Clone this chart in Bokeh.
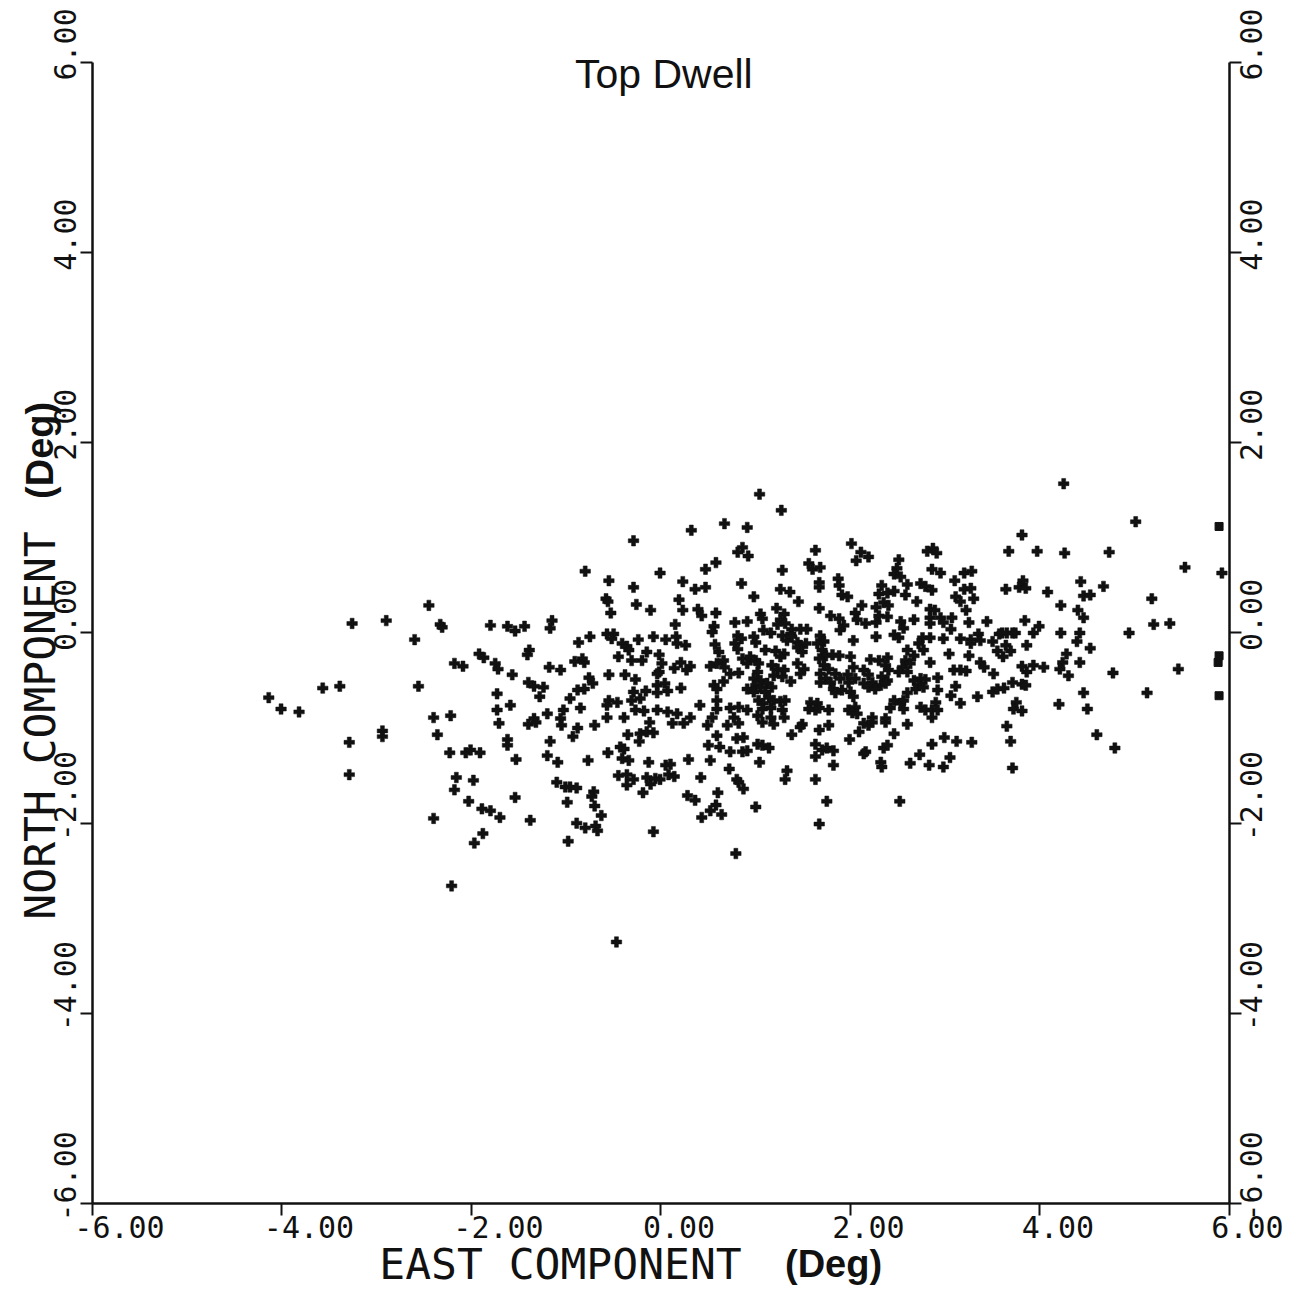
import math
from bokeh.plotting import figure
from bokeh.models import Range1d, LinearAxis, FixedTicker, Label
from bokeh.embed import file_html
from bokeh.resources import INLINE

# ---- data (degrees) ----
east = [
 -2.45,-3.26,-2.90,-2.33,-2.31,-2.60,-1.80,-1.92,-1.87,-2.18,
 -2.09,-1.75,-1.72,-3.57,-3.39,-2.56,-1.73,-4.14,-4.01,-3.82,
 -2.40,-2.22,-1.73,-1.71,-2.94,-2.94,-3.29,-2.36,-2.23,-2.06,
 -2.01,-1.91,-3.29,-2.16,-1.98,-2.18,-2.03,-1.89,-1.80,-1.70,
 -2.40,-1.88,-1.97,-2.21, 0.67, 0.91, 0.32,-0.29, 0.86, 0.81,
  0.92, 0.58, 0.47,-0.80,-0.01,-0.55, 0.23, 0.85,-0.29, 0.36,
  0.47,-0.58,-0.56, 0.19,-0.26,-0.11, 0.39, 0.43, 0.23, 0.58,
 -0.53,-1.15,-1.17,-1.62,-1.54,-1.44, 0.15, 0.56, 0.54, 0.78,
  0.91,-0.57,-0.50,-0.52,-0.75,-0.87,-0.24,-0.08, 0.05, 0.16,
  0.17, 0.26, 0.81, 0.85, 0.78, 0.81,-0.41,-0.36,-0.34, 0.57,
 -1.39,-1.41,-0.15,-0.02,-0.45, 0.61,-0.83,-0.91,-0.81,-0.31,
 -0.20, 0.01,-0.02,-0.04, 0.21, 0.14, 0.31, 0.27, 0.52, 0.59,
  0.66, 0.67, 0.86, 0.91,-1.18,-1.06,-1.57,-0.55,-0.38,-0.27,
 -0.76,-0.72, 0.73, 0.82, 0.66,-1.40,-1.34,-1.24,-1.28,-0.88,
 -0.81,-0.96,-0.29,-0.31,-0.22,-0.16,-0.04, 0.04,-0.04, 0.07,
  0.21, 0.56, 0.59, 0.91, 0.59,-1.59,-1.20,-1.03,-0.85,-0.55,
 -0.57,-0.46, 0.41, 0.73, 0.82,-0.27,-0.18,-0.04, 0.07, 0.17,
  0.59, 0.91,-0.57,-0.39, 0.31, 0.54, 0.77,-1.34,-1.06,-1.40,
 -1.32,-1.05,-0.88,-0.70,-1.62,-1.62,-1.17,-0.93,-0.35,-0.22,
 -0.15,-0.08,-0.23,-0.43,-0.39,-0.56,-1.20,-1.09,-1.53,-0.77,
 -0.41,-0.34,-0.13, 0.05, 0.10, 0.29, 0.52, 0.59, 0.50, 0.62,
  0.73, 0.49, 0.70, 0.82, 0.12, 0.24,-0.12, 0.80, 0.87, 0.86,
  0.91, 0.72,-0.45,-0.36,-0.29,-0.36,-0.15,-0.11,-0.06,-0.01,
  0.08, 0.14, 0.42, 0.80, 0.82, 0.87,-1.10,-1.01,-0.96,-0.89,
 -0.71,-0.73,-0.19, 0.28, 0.36, 0.60,-1.54,-0.99,-0.70, 0.58,
  0.52, 0.64, 0.43,-0.63,-1.38,-0.89,-0.80,-0.69,-0.67,-0.08,
 -0.98, 0.79,-0.47, 1.04, 1.27, 2.01, 1.63, 2.11, 2.19, 2.06,
  2.87, 2.81, 2.91, 2.51, 1.56, 1.60, 1.68, 1.28, 2.49, 2.46,
  2.53, 2.86, 2.95, 3.20, 3.28, 3.10, 1.87, 1.88, 1.67, 1.67,
  2.33, 2.60, 2.74, 2.79, 2.86, 3.20, 3.27, 1.26, 1.36, 2.30,
  2.39, 2.46, 2.58, 1.91, 1.97, 3.11, 3.16, 3.30, 0.98, 1.45,
  2.35, 2.40, 2.70, 2.12, 1.67, 2.27, 1.22, 2.84, 2.89, 3.22,
  1.05, 1.07, 1.30, 1.26, 1.31, 1.23, 1.79, 1.88, 2.05, 2.07,
  2.16, 2.30, 2.27, 2.39, 2.53, 2.67, 2.84, 2.84, 2.95, 3.07,
  2.98, 3.25, 3.44, 1.38, 1.47, 1.54, 1.37, 1.08, 1.16, 1.93,
  1.89, 2.56, 3.06, 0.98, 1.00, 1.28, 1.33, 1.38, 1.44, 1.47,
  1.53, 1.68, 1.72, 1.65, 2.03, 2.27, 2.46, 2.51, 2.76, 2.84,
  2.72, 2.98, 3.16, 3.27, 3.35, 3.37, 3.27, 3.50, 3.57, 1.10,
  0.94, 1.00, 1.03, 1.21, 1.30, 1.26, 1.44, 1.49, 1.70, 1.74,
  1.81, 1.88, 2.00, 2.21, 2.30, 2.39, 2.60, 2.58, 2.67, 2.63,
  2.77, 3.04, 3.25, 3.55, 1.67, 1.17, 1.23, 1.44, 1.51, 1.47,
  1.72, 1.77, 1.68, 1.74, 2.03, 2.14, 2.19, 2.37, 2.40, 2.55,
  2.51, 2.60, 2.84, 3.09, 3.16, 3.22, 3.37, 3.41, 1.02, 0.98,
  1.05, 1.19, 1.28, 1.30, 1.37, 1.84, 1.89, 1.97, 1.98, 1.68,
  1.79, 2.05, 2.14, 2.23, 2.33, 2.39, 2.32, 2.37, 2.67, 2.74,
  2.79, 2.72, 2.69, 2.77, 2.92, 3.11, 3.51, 1.00, 1.05, 0.98,
  1.12, 1.17, 1.10, 1.14, 1.82, 1.91, 1.84, 2.00, 2.03, 2.19,
  2.26, 2.60, 2.92, 3.06, 3.34, 3.50, 3.55, 1.03, 1.08, 1.19,
  1.26, 1.31, 1.07, 1.16, 1.58, 1.65, 1.56, 1.63, 1.67, 1.77,
  1.98, 2.05, 2.02, 2.07, 2.23, 2.37, 2.46, 2.53, 2.56, 2.42,
  2.56, 2.74, 2.79, 2.90, 2.86, 2.92, 3.16, 1.28, 1.02, 1.16,
  1.30, 2.86, 1.07, 1.19, 1.49, 1.47, 1.67, 1.77, 1.38, 2.14,
  2.19, 2.23, 2.37, 2.60, 2.09, 1.99, 2.46, 1.02, 1.07, 1.14,
  1.63, 1.70, 1.75, 1.82, 1.63, 2.16, 2.14, 2.35, 2.39, 1.04,
  1.82, 2.32, 2.33, 2.63, 2.73, 2.83, 2.86, 2.99, 3.12, 3.28,
  3.05, 2.98, 1.33, 1.31, 1.63, 1.75, 2.52, 1.00, 1.67, 4.25,
  5.01, 5.92, 3.81, 3.67, 3.97, 4.26, 4.73, 5.53, 3.82, 3.78,
  3.85, 3.64, 4.08, 4.43, 4.67, 4.46, 4.53, 5.18, 4.22, 4.40,
  4.46, 3.84, 3.99, 3.93, 3.60, 3.65, 3.71, 3.74, 4.22, 4.42,
  4.94, 5.20, 5.37, 4.39, 4.53, 3.86, 3.64, 3.69, 3.61, 4.28,
  4.24, 4.42, 3.81, 3.93, 4.04, 3.86, 4.21, 4.30, 4.77, 5.46,
  3.71, 3.62, 3.81, 3.85, 4.46, 5.13, 3.75, 3.72, 3.81, 4.20,
  4.50, 3.65, 3.69, 3.71, 4.60, 4.79]
north = [
  0.29, 0.10, 0.13, 0.09, 0.06,-0.07, 0.08,-0.22,-0.26,-0.32,
 -0.35,-0.32,-0.38,-0.58,-0.56,-0.56,-0.64,-0.68,-0.80,-0.83,
 -0.89,-0.87,-0.81,-0.95,-1.03,-1.09,-1.15,-1.07,-1.26,-1.26,
 -1.23,-1.26,-1.49,-1.52,-1.55,-1.65,-1.77,-1.85,-1.87,-1.94,
 -1.95,-2.11,-2.21,-2.66, 1.15, 1.11, 1.08, 0.97, 0.90, 0.85,
  0.81, 0.74, 0.67, 0.65, 0.63, 0.55, 0.54, 0.52, 0.48, 0.46,
  0.48, 0.36, 0.33, 0.35, 0.30, 0.24, 0.25, 0.18, 0.24, 0.21,
  0.21, 0.13, 0.05, 0.07, 0.02, 0.07, 0.09, 0.07, 0.01, 0.11,
  0.12,-0.01,-0.01,-0.06,-0.04,-0.10,-0.07,-0.04,-0.07,-0.04,
 -0.11,-0.13,-0.03,-0.06,-0.11,-0.17,-0.11,-0.14,-0.18,-0.12,
 -0.18,-0.23,-0.20,-0.23,-0.25,-0.20,-0.27,-0.30,-0.31,-0.29,
 -0.29,-0.32,-0.41,-0.43,-0.31,-0.37,-0.35,-0.39,-0.35,-0.32,
 -0.29,-0.36,-0.27,-0.32,-0.36,-0.39,-0.44,-0.44,-0.44,-0.49,
 -0.47,-0.53,-0.43,-0.42,-0.51,-0.52,-0.56,-0.57,-0.67,-0.60,
 -0.59,-0.69,-0.62,-0.71,-0.69,-0.61,-0.55,-0.53,-0.63,-0.61,
 -0.58,-0.55,-0.59,-0.59,-0.71,-0.76,-0.85,-0.81,-0.79,-0.71,
 -0.76,-0.73,-0.76,-0.79,-0.78,-0.81,-0.82,-0.81,-0.83,-0.85,
 -0.80,-0.81,-0.89,-0.89,-0.89,-0.89,-0.89,-0.90,-0.90,-0.96,
 -0.94,-0.97,-1.00,-0.97,-1.12,-1.18,-1.14,-1.09,-1.07,-1.06,
 -1.04,-1.05,-1.14,-1.20,-1.22,-1.26,-1.29,-1.36,-1.33,-1.34,
 -1.32,-1.34,-1.36,-1.39,-1.38,-1.33,-1.34,-1.08,-1.18,-1.20,
 -1.25,-0.97,-0.97,-0.95,-0.95,-0.95,-0.94,-1.11,-1.10,-1.25,
 -1.24,-1.43,-1.50,-1.49,-1.54,-1.60,-1.52,-1.59,-1.53,-1.54,
 -1.49,-1.51,-1.52,-1.54,-1.57,-1.64,-1.57,-1.62,-1.62,-1.63,
 -1.67,-1.72,-1.68,-1.71,-1.76,-1.68,-1.73,-1.78,-1.82,-1.81,
 -1.87,-1.91,-1.94,-1.92,-1.97,-2.00,-2.05,-2.03,-2.08,-2.09,
 -2.19,-2.32,-3.25, 1.46, 1.29, 0.94, 0.87, 0.85, 0.80, 0.76,
  0.89, 0.86, 0.84, 0.77, 0.73, 0.67, 0.69, 0.66, 0.68, 0.62,
  0.59, 0.67, 0.63, 0.63, 0.65, 0.55, 0.57, 0.50, 0.53, 0.48,
  0.50, 0.51, 0.52, 0.49, 0.45, 0.46, 0.47, 0.46, 0.43, 0.41,
  0.42, 0.44, 0.40, 0.40, 0.38, 0.38, 0.33, 0.36, 0.38, 0.33,
  0.32, 0.29, 0.33, 0.29, 0.26, 0.27, 0.26, 0.25, 0.24, 0.24,
  0.20, 0.15, 0.20, 0.14, 0.10, 0.09, 0.18, 0.15, 0.21, 0.14,
  0.10, 0.18, 0.11, 0.17, 0.12, 0.14, 0.16, 0.10, 0.16, 0.16,
  0.11, 0.11, 0.12, 0.04, 0.04, 0.04,-0.01, 0.03, 0.00, 0.08,
  0.03, 0.05, 0.04,-0.04,-0.10,-0.03,-0.08,-0.04,-0.10,-0.13,
 -0.11,-0.03,-0.09,-0.11,-0.08,-0.04,-0.02,-0.05,-0.05,-0.05,
 -0.11,-0.06,-0.06,-0.07,-0.01,-0.08,-0.11,-0.09,-0.01,-0.18,
 -0.25,-0.29,-0.32,-0.19,-0.22,-0.25,-0.15,-0.20,-0.18,-0.24,
 -0.23,-0.24,-0.25,-0.28,-0.29,-0.26,-0.18,-0.29,-0.24,-0.32,
 -0.18,-0.22,-0.24,-0.19,-0.27,-0.34,-0.38,-0.32,-0.38,-0.43,
 -0.34,-0.38,-0.43,-0.48,-0.36,-0.39,-0.44,-0.34,-0.39,-0.36,
 -0.41,-0.41,-0.31,-0.39,-0.39,-0.40,-0.31,-0.36,-0.41,-0.48,
 -0.50,-0.45,-0.46,-0.39,-0.51,-0.43,-0.48,-0.44,-0.52,-0.52,
 -0.52,-0.48,-0.53,-0.52,-0.46,-0.50,-0.55,-0.53,-0.50,-0.48,
 -0.49,-0.55,-0.59,-0.57,-0.47,-0.56,-0.43,-0.55,-0.57,-0.62,
 -0.53,-0.57,-0.62,-0.68,-0.59,-0.60,-0.63,-0.62,-0.67,-0.57,
 -0.59,-0.63,-0.60,-0.66,-0.67,-0.62,-0.59,-0.71,-0.74,-0.71,
 -0.72,-0.71,-0.80,-0.79,-0.73,-0.74,-0.80,-0.81,-0.79,-0.81,
 -0.81,-0.78,-0.84,-0.85,-0.89,-0.90,-0.71,-0.74,-0.71,-0.79,
 -0.80,-0.78,-0.81,-0.73,-0.81,-0.81,-0.74,-0.81,-0.87,-0.89,
 -0.89,-0.89,-0.94,-0.96,-0.96,-0.99,-1.02,-0.97,-1.07,-0.95,
 -0.97,-0.94,-0.94,-0.96,-1.04,-1.12,-1.06,-1.17,-1.18,-1.21,
 -1.17,-1.23,-1.21,-1.24,-1.30,-1.25,-1.27,-1.21,-1.18,-1.36,
 -1.39,-1.36,-1.41,-1.37,-1.28,-1.39,-1.17,-1.10,-1.14,-1.15,
 -1.31,-1.41,-1.45,-1.54,-1.54,-1.77,-1.77,-1.83,-2.01, 1.57,
  1.17, 0.63, 1.03, 0.86, 0.86, 0.84, 0.85, 0.69, 0.55, 0.48,
  0.47, 0.46, 0.43, 0.54, 0.49, 0.39, 0.40, 0.36, 0.29, 0.24,
  0.16, 0.13, 0.07, 0.00, 0.00, 0.00, 0.00, 0.00, 0.00, 0.00,
  0.00, 0.09, 0.10,-0.09,-0.16,-0.13,-0.13,-0.19,-0.25,-0.22,
 -0.31,-0.31,-0.35,-0.34,-0.36,-0.41,-0.38,-0.45,-0.42,-0.38,
 -0.52,-0.58,-0.54,-0.55,-0.63,-0.63,-0.73,-0.80,-0.82,-0.75,
 -0.80,-0.98,-1.14,-1.42,-1.07,-1.21]

# points piled up against the right edge of the plot (drawn as squares)
edge_east = [5.89, 5.89, 5.88, 5.89]
edge_north = [1.12, -0.24, -0.31, -0.66]

ticks = [-6, -4, -2, 0, 2, 4, 6]
tick_labels = ["-6.00", "-4.00", "-2.00", "0.00", "2.00", "4.00", "6.00"]
axis_lo, axis_hi = -6, 6

title_text = "Top Dwell"
x_title = "EAST COMPONENT"
y_title = "NORTH COMPONENT"
unit_text = "(Deg)"

INK = "#111111"
FONT_TICK = "DejaVu Sans Mono"

# the frame fills the whole canvas; the axes are pinned at -6 / +6
p = figure(width=1292, height=1291,
           x_range=Range1d(-6.971, 6.665), y_range=Range1d(-6.926, 6.652),
           x_axis_type=None, y_axis_type=None, toolbar_location=None,
           output_backend="svg", min_border=0)
p.outline_line_color = None
p.background_fill_color = "white"
p.border_fill_color = "white"


def line_axis(loc):
    """Axis line and outward ticks at the true tick values, no labels."""
    ax = LinearAxis(ticker=FixedTicker(ticks=ticks, minor_ticks=[]),
                    fixed_location=loc, bounds=(axis_lo, axis_hi))
    ax.axis_line_color = INK
    ax.axis_line_width = 2.5
    ax.major_tick_line_color = INK
    ax.major_tick_line_width = 2
    ax.major_tick_out = 12
    ax.major_tick_in = 0
    ax.minor_tick_line_color = None
    ax.major_label_text_color = None
    return ax


def label_axis(loc, shift_neg, shift_pos, standoff, orientation=None):
    """Tick labels only, offset along the axis as the plotter drew them."""
    pos = [round(t + (shift_neg if t < 0 else shift_pos), 3) for t in ticks]
    ax = LinearAxis(ticker=FixedTicker(ticks=pos, minor_ticks=[]),
                    major_label_overrides=dict(zip(pos, tick_labels)),
                    fixed_location=loc, bounds=(-7.5, 7.5))
    ax.axis_line_color = None
    ax.major_tick_line_color = None
    ax.major_tick_out = 12
    ax.major_tick_in = 0
    ax.minor_tick_line_color = None
    ax.major_label_standoff = standoff
    ax.major_label_text_font = FONT_TICK
    ax.major_label_text_font_size = "30px"
    ax.major_label_text_color = INK
    if orientation is not None:
        ax.major_label_orientation = orientation
    return ax


p.add_layout(line_axis(axis_lo), "below")
p.add_layout(label_axis(axis_lo, 0.285, 0.19, 1), "below")

p.add_layout(line_axis(axis_lo), "left")
p.add_layout(label_axis(axis_lo, 0.285, 0.19, 4, "vertical"), "left")

p.add_layout(line_axis(axis_hi), "right")
p.add_layout(label_axis(axis_hi, -0.19, -0.19, 10, math.pi / 2), "right")

p.scatter(east, north, marker="plus", size=10.5, fill_color=INK, line_color=INK, line_width=0.5)
p.scatter(edge_east, edge_north, marker="square", size=8, fill_color=INK, line_color=INK)

p.add_layout(Label(x=0.03, y=5.884, text=title_text, text_align="center",
                   text_baseline="middle", text_font="Liberation Sans",
                   text_font_size="41px", text_color=INK))

p.add_layout(Label(x=-1.061, y=-6.641, text=x_title, text_align="center",
                   text_baseline="middle", text_font=FONT_TICK,
                   text_font_size="43px", text_color=INK))
p.add_layout(Label(x=1.821, y=-6.636, text=unit_text, text_align="center",
                   text_baseline="middle", text_font="Liberation Sans",
                   text_font_style="bold", text_font_size="38px", text_color=INK))

p.add_layout(Label(x=-6.559, y=-0.973, text=y_title, angle=math.pi / 2,
                   text_align="center", text_baseline="middle",
                   text_font=FONT_TICK, text_font_size="43px", text_color=INK))
p.add_layout(Label(x=-6.559, y=1.92, text=unit_text, angle=math.pi / 2,
                   text_align="center", text_baseline="middle",
                   text_font="Liberation Sans", text_font_style="bold",
                   text_font_size="38px", text_color=INK))

open("out.html", "w").write(file_html(p, INLINE))
